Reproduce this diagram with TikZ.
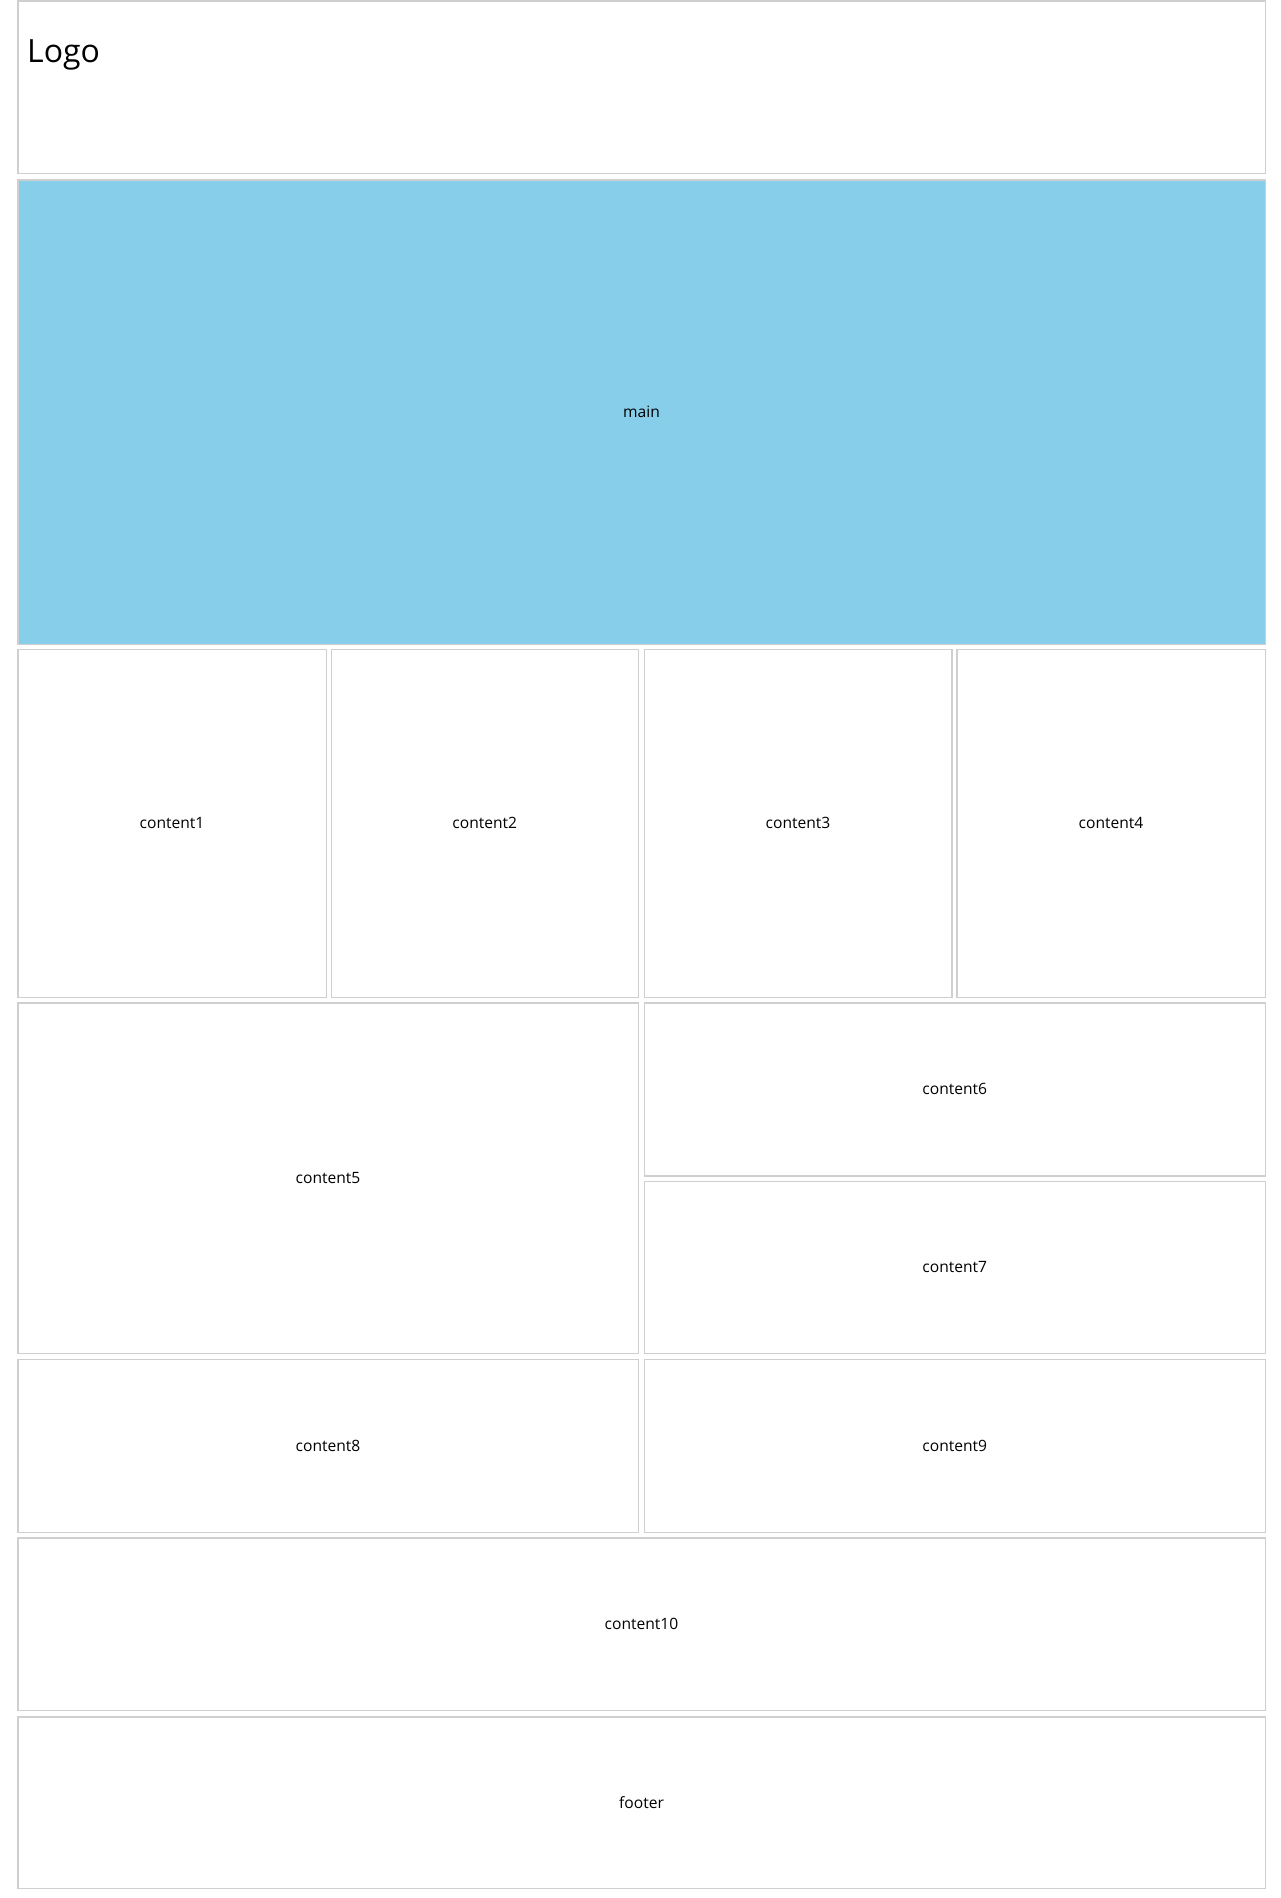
\documentclass[tikz,border=0pt]{standalone}
\usepackage{fontspec}
\setmainfont{Open Sans}
\definecolor{cellborder}{HTML}{CFCFCF}
\definecolor{mainblue}{HTML}{87CEEB}
\tikzset{
  cell/.style={draw=cellborder, line width=1.5pt, rectangle, inner sep=0pt, outer sep=0pt,
    anchor=north west, font=\fontsize{15.6}{19}\selectfont, text=black, text depth=0pt},
  logotext/.style={anchor=base west, inner sep=0pt, font=\fontsize{32}{38}\selectfont}
}
\begin{document}
\begin{tikzpicture}[x=1pt,y=-1pt]
\useasboundingbox (0,0) rectangle (1280,1898);
\fill[white] (0,0) rectangle (1280,1898);
\node[cell, minimum width=1247.5pt, minimum height=172.5pt] (logo) at (17.75,0.75) {};
\node[logotext] (logolabel) at (27,62) {Logo};
\node[cell, fill=mainblue, minimum width=1247.5pt, minimum height=464.5pt] (main) at (17.75,179.75) {main};
\node[cell, minimum width=308.5pt, minimum height=348pt] (c1) at (17.75,649.25) {content1};
\node[cell, minimum width=307pt, minimum height=348pt] (c2) at (331.25,649.25) {content2};
\node[cell, minimum width=307.5pt, minimum height=348pt] (c3) at (644.25,649.25) {content3};
\node[cell, minimum width=308.5pt, minimum height=348pt] (c4) at (956.75,649.25) {content4};
\node[cell, minimum width=620.5pt, minimum height=350.5pt] (c5) at (17.75,1002.75) {content5};
\node[cell, minimum width=621pt, minimum height=173pt] (c6) at (644.25,1002.75) {content6};
\node[cell, minimum width=621pt, minimum height=172pt] (c7) at (644.25,1181.25) {content7};
\node[cell, minimum width=620.5pt, minimum height=173pt] (c8) at (17.75,1359.25) {content8};
\node[cell, minimum width=621pt, minimum height=173pt] (c9) at (644.25,1359.25) {content9};
\node[cell, minimum width=1247.5pt, minimum height=172.5pt] (c10) at (17.75,1537.75) {content10};
\node[cell, minimum width=1247.5pt, minimum height=171.5pt] (footer) at (17.75,1716.75) {footer};
\end{tikzpicture}
\end{document}
